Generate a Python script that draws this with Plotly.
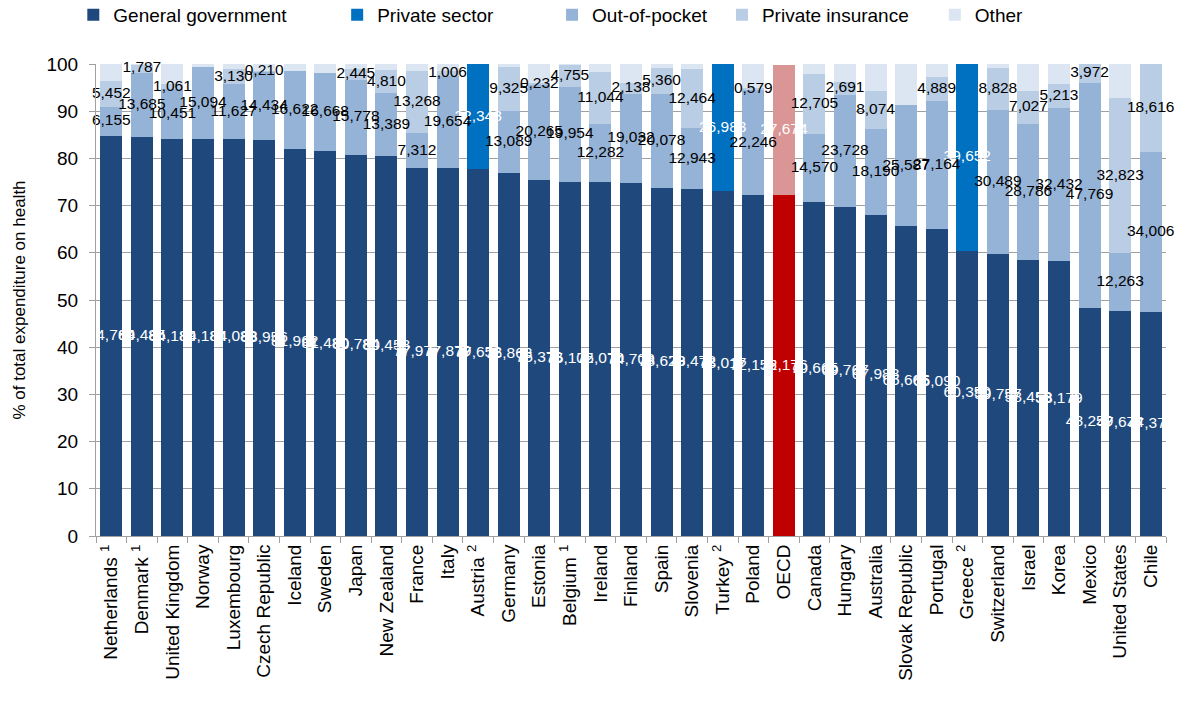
import plotly.graph_objects as go

# Countries, ordered by public share of total health spending
countries = [
    "Netherlands", "Denmark", "United Kingdom", "Norway", "Luxembourg",
    "Czech Republic", "Iceland", "Sweden", "Japan", "New Zealand",
    "France", "Italy", "Austria", "Germany", "Estonia", "Belgium",
    "Ireland", "Finland", "Spain", "Slovenia", "Turkey", "Poland", "OECD",
    "Canada", "Hungary", "Australia", "Slovak Republic", "Portugal",
    "Greece", "Switzerland", "Israel", "Korea", "Mexico", "United States",
    "Chile",
]
tick_labels = [
    "Netherlands <sup>1</sup>", "Denmark <sup>1</sup>", "United Kingdom", "Norway",
    "Luxembourg", "Czech Republic", "Iceland", "Sweden", "Japan", "New Zealand",
    "France", "Italy", "Austria <sup>2</sup>", "Germany", "Estonia",
    "Belgium <sup>1</sup>", "Ireland", "Finland", "Spain", "Slovenia",
    "Turkey <sup>2</sup>", "Poland", "OECD", "Canada", "Hungary", "Australia",
    "Slovak Republic", "Portugal", "Greece <sup>2</sup>", "Switzerland", "Israel",
    "Korea", "Mexico", "United States", "Chile",
]

general_government = [
    84.769, 84.485, 84.189, 84.184, 84.083, 83.956, 81.962, 81.480, 80.784,
    80.458, 77.977, 77.879, 77.652, 76.863, 75.373, 75.102, 75.070, 74.708,
    73.629, 73.472, 73.017, 72.155, 72.176, 70.665, 69.767, 67.988, 65.665,
    65.090, 60.350, 59.757, 58.458, 58.179, 48.259, 47.674, 47.378,
]
private_sector = [
    None, None, None, None, None, None, None, None, None, None, None, None,
    22.348, None, None, None, None, None, None, None, 26.983, None, 27.674,
    None, None, None, None, None, 39.652, None, None, None, None, None, None,
]
out_of_pocket = [
    6.155, 13.685, 10.451, 15.094, 11.627, 14.434, 16.622, 16.668, 15.778,
    13.389, 7.312, 19.654, None, 13.089, 20.265, 19.954, 12.282, 19.032,
    20.078, 12.943, None, 22.246, None, 14.570, 23.728, 18.190, 25.587,
    27.164, None, 30.489, 28.786, 32.432, 47.769, 12.263, 34.006,
]
private_insurance = [
    5.452, 1.787, 1.061, None, 3.130, 0.210, None, None, 2.445, 4.810,
    13.268, 1.006, None, 9.325, 0.232, 4.755, 11.044, 2.138, 5.360, 12.464,
    None, 0.579, None, 12.705, 2.691, 8.074, None, 4.889, None, 8.828,
    7.027, 5.213, 3.972, 32.823, 18.616,
]
other = [
    3.624, 0.043, 4.299, 0.722, 1.160, 1.400, 1.416, 1.852, 0.993, 1.343,
    1.443, 1.461, None, 0.723, 4.130, 0.189, 1.604, 4.122, 0.933, 1.121,
    None, 5.020, None, 2.060, 3.814, 5.748, 8.748, 2.857, None, 0.926,
    5.729, 4.176, None, 7.240, None,
]

FONT = "Liberation Sans, Arial, sans-serif"
GOV = "#1F497D"
PRIV = "#0070C0"
OOP = "#95B3D7"
INS = "#B9CDE5"
OTH = "#DCE6F2"
OECD_GOV = "#C00000"
OECD_PRIV = "#DA9694"
GRID = "#A0A0A0"


def fmt(v):
    # Decimal comma, three decimals
    return f"{v:.3f}".replace(".", ",")


def highlight(base, special):
    return [special if c == "OECD" else base for c in countries]


series = [
    ("General government", general_government, highlight(GOV, OECD_GOV), "white", True, "legend"),
    ("Private sector", private_sector, highlight(PRIV, OECD_PRIV), "white", True, "legend2"),
    ("Out-of-pocket", out_of_pocket, OOP, "black", True, "legend3"),
    ("Private insurance", private_insurance, INS, "black", True, "legend4"),
    ("Other", other, OTH, "black", False, "legend5"),
]

fig = go.Figure()

# Stacked segments
for name, vals, color, tcolor, labelled, lg in series:
    fig.add_trace(go.Bar(
        name=name,
        x=countries,
        y=vals,
        marker=dict(color=color, line=dict(width=0)),
        legend=lg,
        showlegend=True,
        hoverinfo="x+y+name",
    ))

# Value labels sit above every bar, centred on their own segment
base = [0.0] * len(countries)
for name, vals, color, tcolor, labelled, lg in series:
    xs, ys, ts = [], [], []
    for i, v in enumerate(vals):
        if v is None:
            continue
        if labelled:
            xs.append(countries[i])
            ys.append(base[i] + v / 2)
            ts.append(fmt(v))
        base[i] += v
    if xs:
        fig.add_trace(go.Scatter(
            x=xs, y=ys, text=ts, mode="text",
            textposition="middle center",
            textfont=dict(family=FONT, size=15.5, color=tcolor),
            showlegend=False, hoverinfo="skip",
            cliponaxis=False,
        ))

# One legend box per series, laid out in a row above the plot
legend_text_px = [113, 377, 592, 762, 975]
plot_left, plot_width = 95.7, 1070.6
legend_common = dict(
    orientation="h", yanchor="middle", y=1.104, xanchor="left",
    font=dict(family=FONT, size=19, color="black"),
    bgcolor="rgba(0,0,0,0)", borderwidth=0, itemclick=False,
    tracegroupgap=0,
)
legends = {}
for i, px in enumerate(legend_text_px):
    key = "legend" if i == 0 else f"legend{i + 1}"
    legends[key] = dict(legend_common, x=(px - 40 - plot_left) / plot_width)

fig.update_layout(
    width=1178, height=701,
    barmode="stack",
    bargap=0.28,
    paper_bgcolor="white",
    plot_bgcolor="white",
    margin=dict(l=95.7, r=11.7, t=64, b=165, autoexpand=False),
    font=dict(family=FONT, color="black"),
    **legends,
)

fig.update_xaxes(
    type="category",
    categoryorder="array",
    categoryarray=countries,
    range=[-0.5, len(countries) - 0.5],
    tickvals=countries,
    ticktext=tick_labels,
    tickangle=-90,
    tickfont=dict(family=FONT, size=19, color="black"),
    showline=True, linecolor=GRID, linewidth=1,
    ticks="outside", tickson="boundaries", ticklen=6, tickcolor=GRID,
    showgrid=False,
    automargin=False,
)
fig.update_yaxes(
    range=[0, 100],
    dtick=10,
    tickfont=dict(family=FONT, size=19, color="black"),
    ticklabelstandoff=7,
    showline=True, linecolor=GRID, linewidth=1,
    ticks="outside", ticklen=6, tickcolor=GRID,
    showgrid=True, gridcolor=GRID, gridwidth=1,
    zeroline=False,
    title=dict(text="% of total expenditure on health",
               font=dict(family=FONT, size=17, color="black"), standoff=16),
    automargin=False,
)

fig.write_html("out.html")
